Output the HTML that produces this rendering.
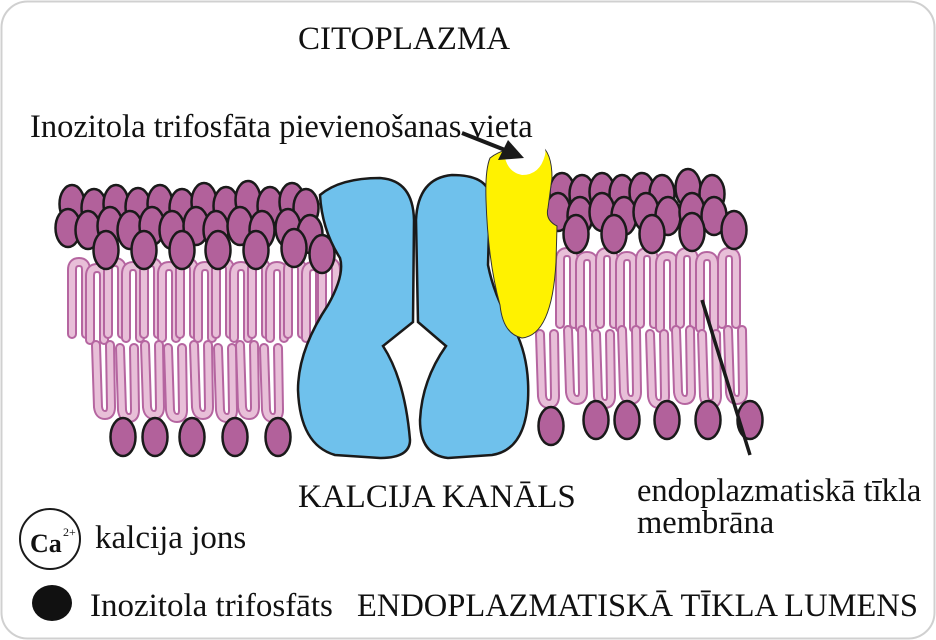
<!DOCTYPE html>
<html><head><meta charset="utf-8"><style>
body{margin:0;background:#fff}
svg{display:block}
text{font-family:"Liberation Serif",serif;fill:#111}
</style></head><body>
<svg width="936" height="640" viewBox="0 0 936 640" xmlns="http://www.w3.org/2000/svg">
<defs>
<g id="ut"><path d="M0,72 L0,8 Q0,0 7,0 Q14,0 14,8 L14,72" fill="none" stroke="#b565a0" stroke-width="10" stroke-linecap="round"/><path d="M0,72 L0,8 Q0,0 7,0 Q14,0 14,8 L14,72" fill="none" stroke="#e8bfd8" stroke-width="6" stroke-linecap="round"/></g>
<g id="lt"><path d="M0,0 L2,62 Q3,70 9,70 Q15,70 15,62 L14,0" fill="none" stroke="#b565a0" stroke-width="10" stroke-linecap="round"/><path d="M0,0 L2,62 Q3,70 9,70 Q15,70 15,62 L14,0" fill="none" stroke="#e8bfd8" stroke-width="6" stroke-linecap="round"/></g>
<ellipse id="h" rx="12.5" ry="19" fill="#b2619b" stroke="#1a1a1a" stroke-width="2.5"/>
</defs>
<rect x="1.5" y="1.5" width="933" height="637" rx="26" fill="#fff" stroke="#d0d0d0" stroke-width="2"/>

<g>
<use href="#ut" x="72" y="262"/><use href="#ut" x="90" y="268"/><use href="#ut" x="108" y="262"/><use href="#ut" x="126" y="266"/><use href="#ut" x="144" y="262"/><use href="#ut" x="162" y="266"/><use href="#ut" x="180" y="262"/><use href="#ut" x="198" y="266"/><use href="#ut" x="216" y="262"/><use href="#ut" x="234" y="266"/><use href="#ut" x="252" y="262"/><use href="#ut" x="270" y="266"/><use href="#ut" x="288" y="262"/><use href="#ut" x="306" y="266"/><use href="#ut" x="322" y="262"/>
<use href="#ut" x="560" y="252"/><use href="#ut" x="580" y="256"/><use href="#ut" x="600" y="252"/><use href="#ut" x="620" y="256"/><use href="#ut" x="640" y="252"/><use href="#ut" x="660" y="256"/><use href="#ut" x="680" y="252"/><use href="#ut" x="700" y="256"/><use href="#ut" x="722" y="252"/>
<use href="#lt" x="96" y="345"/><use href="#lt" x="120" y="348"/><use href="#lt" x="145" y="345"/><use href="#lt" x="168" y="348"/><use href="#lt" x="194" y="345"/><use href="#lt" x="218" y="348"/><use href="#lt" x="240" y="345"/><use href="#lt" x="264" y="348"/>
<use href="#lt" x="540" y="334"/><use href="#lt" x="568" y="330"/><use href="#lt" x="596" y="334"/><use href="#lt" x="622" y="330"/><use href="#lt" x="650" y="334"/><use href="#lt" x="676" y="330"/><use href="#lt" x="702" y="334"/><use href="#lt" x="728" y="330"/>
</g>
<g>
<use href="#h" x="72" y="204"/><use href="#h" x="94" y="208"/><use href="#h" x="116" y="204"/><use href="#h" x="138" y="207"/><use href="#h" x="160" y="204"/><use href="#h" x="182" y="208"/><use href="#h" x="204" y="202"/><use href="#h" x="226" y="206"/><use href="#h" x="248" y="200"/><use href="#h" x="270" y="206"/><use href="#h" x="292" y="202"/><use href="#h" x="306" y="208"/>
<use href="#h" x="68" y="228"/><use href="#h" x="88" y="230"/><use href="#h" x="110" y="226"/><use href="#h" x="130" y="230"/><use href="#h" x="152" y="226"/><use href="#h" x="172" y="230"/><use href="#h" x="196" y="226"/><use href="#h" x="216" y="230"/><use href="#h" x="240" y="226"/><use href="#h" x="262" y="230"/><use href="#h" x="288" y="228"/><use href="#h" x="310" y="234"/>
<use href="#h" x="106" y="250"/><use href="#h" x="144" y="250"/><use href="#h" x="182" y="250"/><use href="#h" x="218" y="250"/><use href="#h" x="256" y="250"/><use href="#h" x="294" y="248"/><use href="#h" x="322" y="254"/>
<use href="#h" x="562" y="192"/><use href="#h" x="582" y="194"/><use href="#h" x="602" y="192"/><use href="#h" x="622" y="194"/><use href="#h" x="642" y="192"/><use href="#h" x="662" y="194"/><use href="#h" x="688" y="188"/><use href="#h" x="712" y="194"/>
<use href="#h" x="558" y="212"/><use href="#h" x="580" y="216"/><use href="#h" x="602" y="212"/><use href="#h" x="624" y="216"/><use href="#h" x="646" y="212"/><use href="#h" x="668" y="216"/><use href="#h" x="692" y="212"/><use href="#h" x="714" y="216"/>
<use href="#h" x="576" y="234"/><use href="#h" x="614" y="234"/><use href="#h" x="652" y="234"/><use href="#h" x="692" y="232"/><use href="#h" x="734" y="230"/>
<use href="#h" x="123" y="437"/><use href="#h" x="155" y="437"/><use href="#h" x="192" y="437"/><use href="#h" x="235" y="437"/><use href="#h" x="278" y="437"/>
<use href="#h" x="551" y="426"/><use href="#h" x="596" y="420"/><use href="#h" x="627" y="420"/><use href="#h" x="667" y="420"/><use href="#h" x="708" y="420"/><use href="#h" x="750" y="420"/>
</g>
<path d="M320,195 Q340,178 380,178 Q413,180 414,220 L413,322 L383,346 Q405,380 410,440 Q410,458 380,458 L335,455 Q300,445 298,390 Q298,350 328,305 Q345,275 340,258 Q322,230 320,195 Z" fill="#6fc1ec" stroke="#1a1a1a" stroke-width="2.5"/>
<path d="M416,220 Q418,178 452,175 Q486,175 490,195 L488,265 Q495,300 515,330 Q530,360 528,400 Q525,450 492,455 L448,458 Q420,455 420,420 Q422,380 446,346 L418,322 Z" fill="#6fc1ec" stroke="#1a1a1a" stroke-width="2.5"/>
<path d="M490,158 Q505,146 540,145 Q552,152 552,178 L548,208 Q545,220 557,226 L556,262 Q552,335 522,338 Q503,334 500,305 Q488,262 486,200 Q485,170 490,158 Z" fill="#fff200" stroke="#333" stroke-width="1"/>
<path d="M504,152 Q510,142 530,140 Q548,142 545,155 Q540,175 522,175 Q506,172 504,152 Z" fill="#fff"/>
<line x1="462" y1="133" x2="505" y2="150" stroke="#1a1a1a" stroke-width="4"/>
<polygon points="524,158 498,160 508,140" fill="#1a1a1a"/>
<line x1="702" y1="300" x2="750" y2="455" stroke="#1a1a1a" stroke-width="3.5"/>
<text x="298" y="49" font-size="33">CITOPLAZMA</text>
<text x="30" y="137" font-size="32.5">Inozitola trifosfāta pievienošanas vieta</text>
<text x="298" y="507" font-size="33">KALCIJA KANĀLS</text>
<text x="637" y="501" font-size="32.5">endoplazmatiskā tīkla</text>
<text x="637" y="533" font-size="32.5">membrāna</text>
<circle cx="50" cy="539" r="30" fill="#fff" stroke="#1a1a1a" stroke-width="2"/>
<text x="30" y="552" font-size="26" font-weight="bold">Ca</text>
<text x="63" y="536" font-size="12">2+</text>
<text x="95" y="548" font-size="33">kalcija jons</text>
<ellipse cx="52" cy="603" rx="20" ry="18" fill="#111"/>
<text x="90" y="616" font-size="33">Inozitola trifosfāts</text>
<text x="357" y="616" font-size="32.5">ENDOPLAZMATISKĀ TĪKLA LUMENS</text>
</svg>
</body></html>
